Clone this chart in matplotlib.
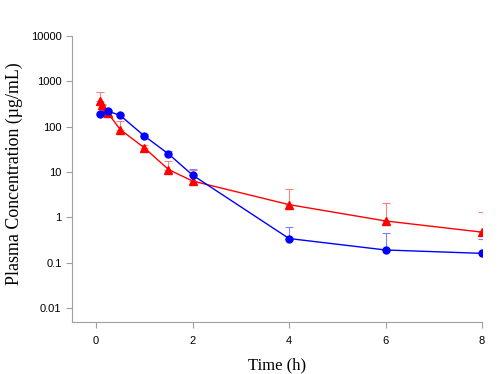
import matplotlib
matplotlib.use("Agg")
import matplotlib.pyplot as plt

# blue series (circles)
t_blue = [0.083, 0.25, 0.5, 1, 1.5, 2, 4, 6, 8]
c_blue = [185, 219, 176, 62, 25, 8.5, 0.34, 0.19, 0.16]
e_blue = [0, 15, 10, 8, 4, 3, 0.28, 0.25, 0.18]

# red series (triangles)
t_red = [0.083, 0.125, 0.167, 0.25, 0.5, 1, 1.5, 2, 4, 6, 8]
c_red = [370, 293, 210, 195, 86, 34, 11.3, 6.3, 1.9, 0.83, 0.47]
e_red = [210, 30, 20, 15, 46, 5, 6.5, 5, 2.2, 1.2, 0.87]

fig = plt.figure(figsize=(5, 3.74), dpi=100)
ax = fig.add_axes([0.144, 0.139, 0.820, 0.765])

ax.errorbar(t_blue, c_blue, yerr=[[0] * len(e_blue), e_blue], fmt="none",
            ecolor="#8080ff", elinewidth=0.8, capsize=3, capthick=0.8)
ax.errorbar(t_red, c_red, yerr=[[0] * len(e_red), e_red], fmt="none",
            ecolor="#ff8080", elinewidth=0.8, capsize=3, capthick=0.8)
ax.plot(t_red, c_red, color="#ff0000", marker="^", markersize=6, lw=1)
ax.plot(t_blue, c_blue, color="#0000ff", marker="o", markersize=5, lw=1)

ax.set_yscale("log")
ax.set_ylim(0.0049, 10000)
ax.set_xlim(-0.5, 8)
ax.set_xticks([0, 2, 4, 6, 8])
ax.set_yticks([0.01, 0.1, 1, 10, 100, 1000, 10000])
ax.set_yticklabels(["0.01", "0.1", "1", "10", "100", "1000", "10000"])
ax.minorticks_off()

for s in ["top", "right"]:
    ax.spines[s].set_visible(False)
for s in ["left", "bottom"]:
    ax.spines[s].set_color("#a0a0a0")
    ax.spines[s].set_linewidth(0.8)
ax.tick_params(colors="#a0a0a0", labelcolor="black", length=4, width=0.8,
               labelsize=8, direction="out")
for lab in ax.get_xticklabels() + ax.get_yticklabels():
    lab.set_family("Liberation Sans")
ax.tick_params(axis="x", pad=6)

ax.set_xlabel("Time (h)", family="Liberation Serif", fontsize=12, labelpad=8)
fig.text(0.029, 0.536, "Plasma Concentration (µg/mL)", family="Liberation Serif",
         fontsize=12.9, rotation=90, ha="center", va="center")

fig.savefig("out.png", dpi=100)
